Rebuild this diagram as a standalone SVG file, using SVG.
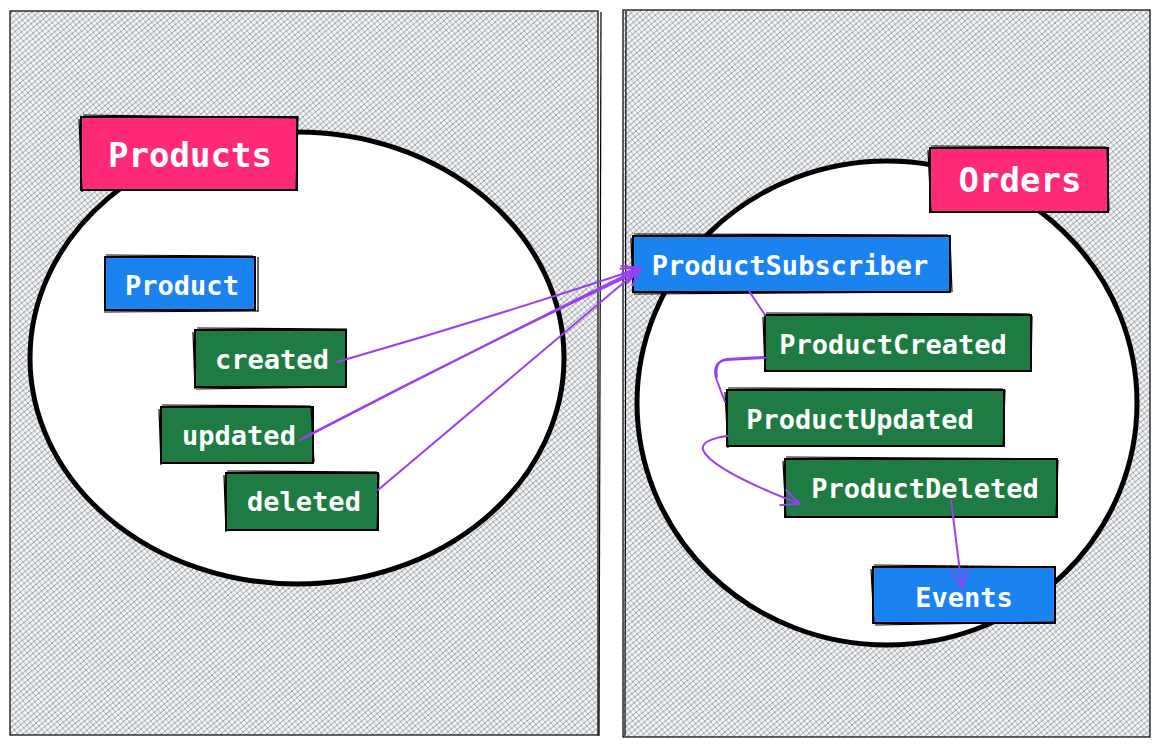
<svg xmlns="http://www.w3.org/2000/svg" width="1160" height="747" viewBox="0 0 1160 747">
<defs>
<pattern id="hatch" width="6" height="6" patternUnits="userSpaceOnUse" patternTransform="rotate(5)">
<rect width="6" height="6" fill="#f2f3f4"/>
<path d="M-1,1 L1,-1 M0,6 L6,0 M5,7 L7,5" stroke="#8c9299" stroke-width="0.9"/>
<path d="M-1,5 L1,7 M0,0 L6,6 M5,-1 L7,1" stroke="#a3a8ae" stroke-width="0.8"/>
</pattern>
<marker id="ah" viewBox="0 0 20 20" refX="19" refY="10" markerWidth="20" markerHeight="20" markerUnits="userSpaceOnUse" orient="auto">
<path d="M1,2 L19,10 L1,18" fill="none" stroke="#9b40ee" stroke-width="2" stroke-linecap="round" stroke-linejoin="round"/>
</marker>
</defs>
<style>
.panel{fill:url(#hatch);stroke:#111;stroke-width:1.3}
.circ{fill:#fff;stroke:#000;stroke-width:5}
.box{stroke:#000;stroke-width:2}
.rough{fill:none;stroke:#000;stroke-width:1.2}
.pink{fill:#ff2a77}
.blue{fill:#1a83ef}
.green{fill:#1e7b42}
.t{fill:#fff;font-family:"DejaVu Sans Mono","Liberation Mono",monospace;font-weight:bold;text-anchor:middle;dominant-baseline:central}
.c{fill:none;stroke:#9b40ee;stroke-width:2;stroke-linecap:round}
</style>
<rect width="1160" height="747" fill="#fff"/>
<g id="panel-left">
<rect class="panel" x="10" y="11" width="588" height="724"/>
<path class="rough" d="M601,12 L599,736"/>
</g>
<g id="panel-right">
<rect class="panel" x="623" y="10" width="527" height="727"/>
<path class="rough" d="M626,11 L625,736"/>
</g>
<g id="circle-products"><ellipse class="circ" cx="297" cy="358" rx="267" ry="226"/></g>
<g id="circle-orders"><ellipse class="circ" cx="887" cy="403" rx="250" ry="242"/></g>

<g id="node-products">
<rect class="box pink" x="81" y="117" width="216" height="73"/>
<path class="rough" d="M83,115 L299,118 M79,119 L82,192 M298,116 L296,191"/>
<text class="t" x="190" y="155" font-size="34">Products</text>
</g>
<g id="node-product">
<rect class="box blue" x="105" y="257" width="150" height="53"/>
<path class="rough" d="M106,255 L253,256 M258,257 L258,311 M104,312 L259,311"/>
<text class="t" x="182" y="285" font-size="27">Product</text>
</g>
<g id="node-created">
<rect class="box green" x="195" y="330" width="151" height="57"/>
<path class="rough" d="M197,328 L347,329 M193,332 L195,389 M196,389 L347,387"/>
<text class="t" x="272" y="359" font-size="27">created</text>
</g>
<g id="node-updated">
<rect class="box green" x="161" y="407" width="152" height="56"/>
<path class="rough" d="M162,405 L311,406 M159,409 L161,465 M311,407 L314,462"/>
<text class="t" x="239" y="435" font-size="27">updated</text>
</g>
<g id="node-deleted">
<rect class="box green" x="226" y="473" width="152" height="57"/>
<path class="rough" d="M227,471 L377,472 M224,475 L226,532 M379,474 L377,531"/>
<text class="t" x="304" y="501" font-size="27">deleted</text>
</g>
<g id="node-orders">
<rect class="box pink" x="930" y="148" width="178" height="64"/>
<path class="rough" d="M931,146 L1106,147 M928,150 L931,213 M1107,148 L1109,211"/>
<text class="t" x="1020" y="180" font-size="34">Orders</text>
</g>
<g id="node-subscriber">
<rect class="box blue" x="633" y="236" width="317" height="56"/>
<path class="rough" d="M634,234 L948,235 M631,238 L633,293 M950,237 L952,292 M634,294 L951,292"/>
<text class="t" x="790" y="265" font-size="27">ProductSubscriber</text>
</g>
<g id="node-pcreated">
<rect class="box green" x="765" y="315" width="266" height="56"/>
<path class="rough" d="M766,313 L1030,314 M763,317 L765,372 M1032,316 L1031,372"/>
<text class="t" x="893" y="344" font-size="27">ProductCreated</text>
</g>
<g id="node-pupdated">
<rect class="box green" x="727" y="390" width="277" height="56"/>
<path class="rough" d="M728,388 L1003,389 M725,392 L728,448 M1005,390 L1003,447"/>
<text class="t" x="860" y="419" font-size="27">ProductUpdated</text>
</g>
<g id="node-pdeleted">
<rect class="box green" x="785" y="459" width="272" height="58"/>
<path class="rough" d="M786,457 L1056,459 M783,461 L786,518 M1058,460 L1056,518"/>
<text class="t" x="925" y="488" font-size="27">ProductDeleted</text>
</g>
<g id="node-events">
<rect class="box blue" x="873" y="567" width="182" height="56"/>
<path class="rough" d="M874,565 L1054,567 M871,569 L874,624 M875,625 L1054,622"/>
<text class="t" x="964" y="597" font-size="27">Events</text>
</g>

<g id="connectors">
<path class="c" d="M337,362 Q490,318 641,268" marker-end="url(#ah)"/>
<path class="c" d="M300,440 Q470,352 640,268" marker-end="url(#ah)"/>
<path class="c" d="M303,438 Q472,350 641,270"/>
<path class="c" d="M378,490 Q510,378 641,268" marker-end="url(#ah)"/>
<path class="c" d="M749,291 L765,315"/>
<path class="c" d="M765,358 L726,360 Q712,362 716,378 L725,402"/>
<path class="c" d="M763,357 L727,359 Q714,361 717,377"/>
<path class="c" d="M727,436 Q700,440 703,450 Q712,470 800,504" marker-end="url(#ah)"/>
<path class="c" d="M951,500 L962,588" marker-end="url(#ah)"/>
</g>
</svg>
